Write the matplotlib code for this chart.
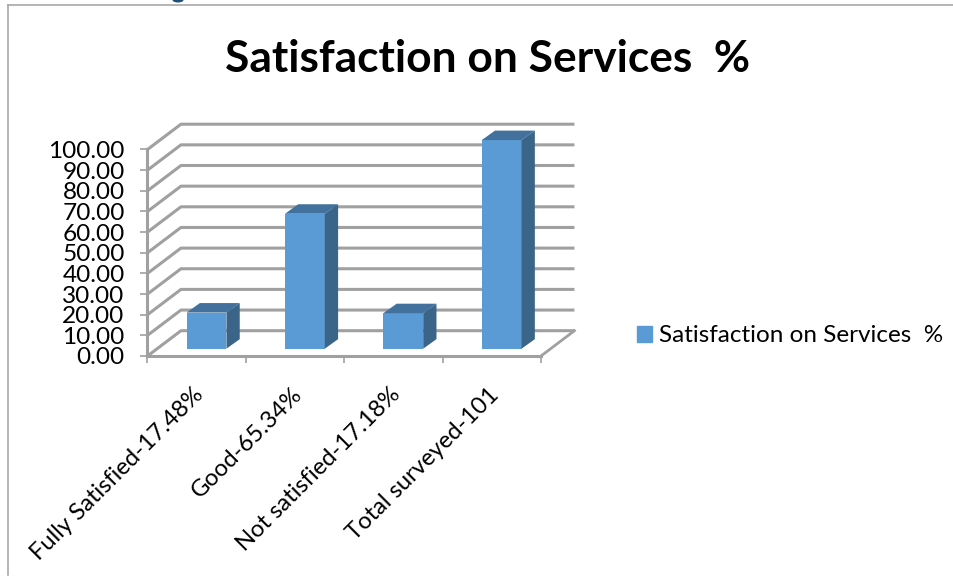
import matplotlib
matplotlib.use('Agg')
import matplotlib.pyplot as plt
from matplotlib.patches import Polygon, Patch, Ellipse

plt.rcParams['font.family'] = ['Lato', 'DejaVu Sans']

# data
categories = ['Fully Satisfied-17.48%', 'Good-65.34%', 'Not satisfied-17.18%', 'Total surveyed-101']
values = [17.48, 65.34, 17.18, 101]
y_ticks = list(range(0, 101, 10))
title = 'Satisfaction on Services  %'

W, H = 954, 582
fig = plt.figure(figsize=(W / 100, H / 100), dpi=100)

# front plane of the fake 3d chart
left, right, top, bottom = 147.5, 541, 149.5, 356
ax = fig.add_axes([left / W, 1 - bottom / H, (right - left) / W, (bottom - top) / H])
ax.set_xlim(-0.5, 3.5)
ax.set_ylim(0, 100)
ax.patch.set_alpha(0)

# depth of the floor in data units
depth_x = 0.34
depth_y = 12.25
grid_color = '#a0a0a0'

# back wall gridlines and side wall
for v in y_ticks:
    ax.plot([-0.5, -0.5 + depth_x, 3.5 + depth_x], [v, v + depth_y, v + depth_y],
            color=grid_color, lw=2.2, clip_on=False, zorder=1, solid_capstyle='butt')
ax.plot([3.5, 3.5 + depth_x], [0, depth_y], color=grid_color, lw=2.0, clip_on=False, zorder=1)

# bars
bar_w = 0.405
shift_x = 0.1
shift_y = 3.55
bar_dx = 0.135
bar_dy = 4.6
positions = [i + shift_x for i in range(len(values))]
ax.bar(positions, values, width=bar_w, bottom=shift_y, color='#5b9bd5', zorder=5, clip_on=False)
for x, v in zip(positions, values):
    x0, x1 = x - bar_w / 2, x + bar_w / 2
    y0, y1 = shift_y, shift_y + v
    ax.add_patch(Polygon([(x0, y1), (x1, y1), (x1 + bar_dx, y1 + bar_dy), (x0 + bar_dx, y1 + bar_dy)],
                         closed=True, fc='#41719c', ec='none', zorder=5, clip_on=False))
    ax.add_patch(Polygon([(x1, y0), (x1 + bar_dx, y0 + bar_dy), (x1 + bar_dx, y1 + bar_dy), (x1, y1)],
                         closed=True, fc='#3a6589', ec='none', zorder=5, clip_on=False))

# axes
for s in ['top', 'right']:
    ax.spines[s].set_visible(False)
for s in ['left', 'bottom']:
    ax.spines[s].set_color(grid_color)
    ax.spines[s].set_linewidth(2.2)
ax.set_yticks(y_ticks)
ax.set_yticklabels([f'{v:.2f}' for v in y_ticks], fontsize=17.6, color='black')
ax.set_xticks([i - 0.5 for i in range(5)])
ax.set_xticklabels([])
ax.tick_params(axis='y', color=grid_color, width=1.2, length=5, pad=11.5)
ax.tick_params(axis='x', color=grid_color, width=1.2, length=5)

# rotated category labels end under the middle of each slot
for i, c in enumerate(categories):
    ax.annotate(c, xy=(i, 0), xycoords='data', xytext=(-3, -20), textcoords='offset points',
                rotation=45, rotation_mode='anchor', ha='right', va='top', fontsize=17.1, color='black')

fig.text(488 / W, 1 - 59 / H, title, ha='center', va='center', fontsize=31.9, fontweight='bold', color='black')

leg = fig.legend(handles=[Patch(color='#5b9bd5', label=title)], loc='center left',
                 bbox_to_anchor=(637 / W, 1 - 336 / H), frameon=False, fontsize=17.5,
                 handlelength=0.63, handleheight=0.63, handletextpad=0.28,
                 borderaxespad=0, borderpad=0)

# outer chart border
fig.add_artist(plt.Line2D([8 / W, 8 / W], [1 - 5 / H, 1 - 575 / H], color='#a8a8a8', lw=1.2))
fig.add_artist(plt.Line2D([8 / W, 1], [1 - 5 / H, 1 - 5 / H], color='#a8a8a8', lw=1.2))

# bit of cropped text above the chart
fig.add_artist(Ellipse((178 / W, 1), 11 / W, 5 / H, fc='#1f4e79', ec='none'))

fig.savefig('out.png', dpi=100)
